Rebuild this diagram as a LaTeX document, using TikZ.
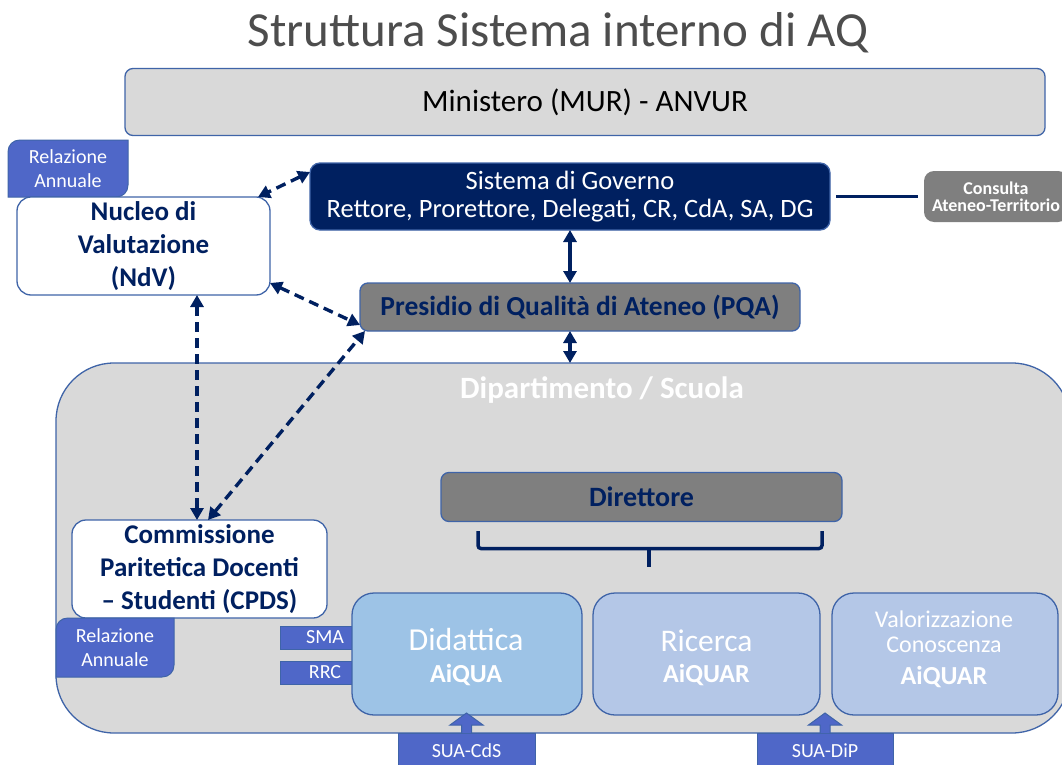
\documentclass[tikz,border=0pt]{standalone}
\usepackage{fontspec}
\setmainfont{Carlito}
\usetikzlibrary{arrows.meta,calc}
\definecolor{navy}{HTML}{002060}
\definecolor{bord}{HTML}{3F64A8}
\definecolor{rel}{HTML}{4F67C8}
\definecolor{grayf}{HTML}{7F7F7F}
\definecolor{lgray}{HTML}{D9D9D9}
\definecolor{did}{HTML}{9DC3E6}
\definecolor{ric}{HTML}{B4C7E7}
\definecolor{ttl}{HTML}{4D4D4D}
\newcommand\fsz[2]{\fontsize{#1pt}{#2pt}\selectfont}
\begin{document}
\begin{tikzpicture}[x=1pt,y=-1pt,
  every node/.style={inner sep=0pt,outer sep=0pt},
  bx/.style={draw=bord,line width=1.3pt,rounded corners=#1,align=center},
  bx/.default=10pt,
  conn/.style={draw=navy,line width=3.4pt,{Triangle[length=12pt,width=13pt]}-{Triangle[length=12pt,width=13pt]}},
  dconn/.style={conn,dash pattern=on 10pt off 6pt},
  tab/.style={fill=rel,draw=bord,line width=1pt},
  wt/.style={text=white,align=center}
]
\useasboundingbox (0,0) rectangle (1062,765);

% title
\node[font=\fsz{49}{55},text=ttl,anchor=base] (title) at (558,47) {Struttura Sistema interno di AQ};

% ministero
\node[bx=8pt,fill=lgray,minimum width=920pt,minimum height=67pt,font=\fsz{31}{35}] (mur) at (585,102) {Ministero (MUR) - ANVUR};

% dipartimento
\node[bx=58pt,fill=lgray,minimum width=1014pt,minimum height=370pt] (dept) at (563,548) {};
\node[font=\bfseries\fsz{31}{34},text=white] (deptl) at (602,390) {Dipartimento / Scuola};

% relazione annuale (top)
\path[tab] (8,197) -- (8,152) .. controls (8,145) and (13,140) .. (20,140) -- (128,140) -- (128,185) .. controls (128,192) and (123,197) .. (116,197) -- cycle;
\node[font=\fsz{20}{24},wt] (rel1) at (68,169) {Relazione\\Annuale};

% NdV
\node[bx=14pt,fill=white,minimum width=253pt,minimum height=98pt,font=\bfseries\fsz{27}{33},text=navy] (ndv) at (143.5,246) {Nucleo di\\Valutazione\\(NdV)};

% governo
\node[bx=10pt,fill=navy,minimum width=520pt,minimum height=67pt,font=\fsz{26.5}{28},text=white] (gov) at (570,196.5) {Sistema di Governo\\Rettore, Prorettore, Delegati, CR, CdA, SA, DG};

% consulta
\node[rounded corners=10pt,fill=grayf,minimum width=144pt,minimum height=51pt,font=\bfseries\fsz{18}{17},wt] (cons) at (996,196.5) {Consulta\\Ateneo-Territorio};

% PQA
\node[bx=8pt,fill=grayf,minimum width=440pt,minimum height=48pt,font=\bfseries\fsz{27.5}{30},text=navy] (pqa) at (580,307) {Presidio di Qualità di Ateneo (PQA)};

% direttore
\node[bx=8pt,fill=grayf,minimum width=401pt,minimum height=49pt,font=\bfseries\fsz{28}{30},text=navy] (dir) at (641.5,497) {Direttore};

% bracket
\draw[navy,line width=3.5pt,rounded corners=3pt] (478,531) -- (478,548.5) -- (822,548.5) -- (822,531);
\draw[navy,line width=3.5pt] (649,548.5) -- (649,567);

% CPDS
\node[bx=14pt,fill=white,minimum width=255pt,minimum height=98pt,font=\bfseries\fsz{27}{33},text=navy] (cpds) at (199.5,569) {Commissione\\Paritetica Docenti\\– Studenti (CPDS)};

% relazione annuale (bottom)
\path[tab] (56,677) -- (56,630) .. controls (56,623) and (61,618) .. (68,618) -- (174,618) -- (174,665) .. controls (174,672) and (169,677) .. (162,677) -- cycle;
\node[font=\fsz{20}{24},wt] (rel2) at (115,648) {Relazione\\Annuale};

% SMA / RRC
\node[tab,minimum width=90pt,minimum height=23pt,font=\fsz{20}{22},text=white] (sma) at (325,637.5) {SMA};
\node[tab,minimum width=90pt,minimum height=23pt,font=\fsz{20}{22},text=white] (rrc) at (325,672.5) {RRC};

% three areas
\node[bx=22pt,fill=did,minimum width=230pt,minimum height=122pt] (did) at (467,654) {};
\node[font=\fsz{32}{34},text=white] (didt) at (466,640) {Didattica};
\node[font=\bfseries\fsz{26}{28},text=white] (dida) at (466,675) {AiQUA};

\node[bx=22pt,fill=ric,minimum width=227pt,minimum height=122pt] (ric) at (706.5,654) {};
\node[font=\fsz{31.5}{34},text=white] (rict) at (706.5,641) {Ricerca};
\node[font=\bfseries\fsz{26}{28},text=white] (rica) at (706.5,675) {AiQUAR};

\node[bx=22pt,fill=ric,minimum width=226pt,minimum height=122pt] (val) at (945,654) {};
\node[font=\fsz{24}{25},wt] (valt) at (944,632) {Valorizzazione\\Conoscenza};
\node[font=\bfseries\fsz{26}{28},text=white] (vala) at (944,677) {AiQUAR};

% SUA boxes
\node[tab,minimum width=137pt,minimum height=36pt,font=\fsz{20}{22},text=white] (suac) at (466.5,751) {SUA-CdS};
\node[tab,minimum width=136pt,minimum height=36pt,font=\fsz{20}{22},text=white] (suad) at (825,751) {SUA-DiP};
\path[tab] ($(suac.north)+(-5,0)$) -- ++(0,-8) -- ++(-11.5,0) -- ($(suac.north)+(0,-20)$) -- ($(suac.north)+(16.5,-8)$) -- ++(-11.5,0) -- ($(suac.north)+(5,0)$);
\path[tab] ($(suad.north)+(-5,0)$) -- ++(0,-8) -- ++(-11.5,0) -- ($(suad.north)+(0,-20)$) -- ($(suad.north)+(16.5,-8)$) -- ++(-11.5,0) -- ($(suad.north)+(5,0)$);

% connectors
\draw[navy,line width=3pt,shorten <=6pt,shorten >=6pt] (gov.east) -- (cons.west);
\draw[conn] (gov.south) -- (gov.south |- pqa.north);
\draw[conn] (gov.south |- pqa.south) -- (gov.south |- dept.north);
\draw[dconn] ([yshift=-9pt]gov.north west) -- ([xshift=-12pt]ndv.north east);
\draw[dconn] ([yshift=12pt]ndv.south east) -- ([yshift=6pt]pqa.south west);
\coordinate (cv) at ([xshift=-2.5pt]cpds.north);
\draw[dconn] (cv |- ndv.south) -- (cv);
\draw[dconn] ([xshift=8.5pt]cpds.north) -- ([xshift=5pt]pqa.south west);
\end{tikzpicture}
\end{document}
